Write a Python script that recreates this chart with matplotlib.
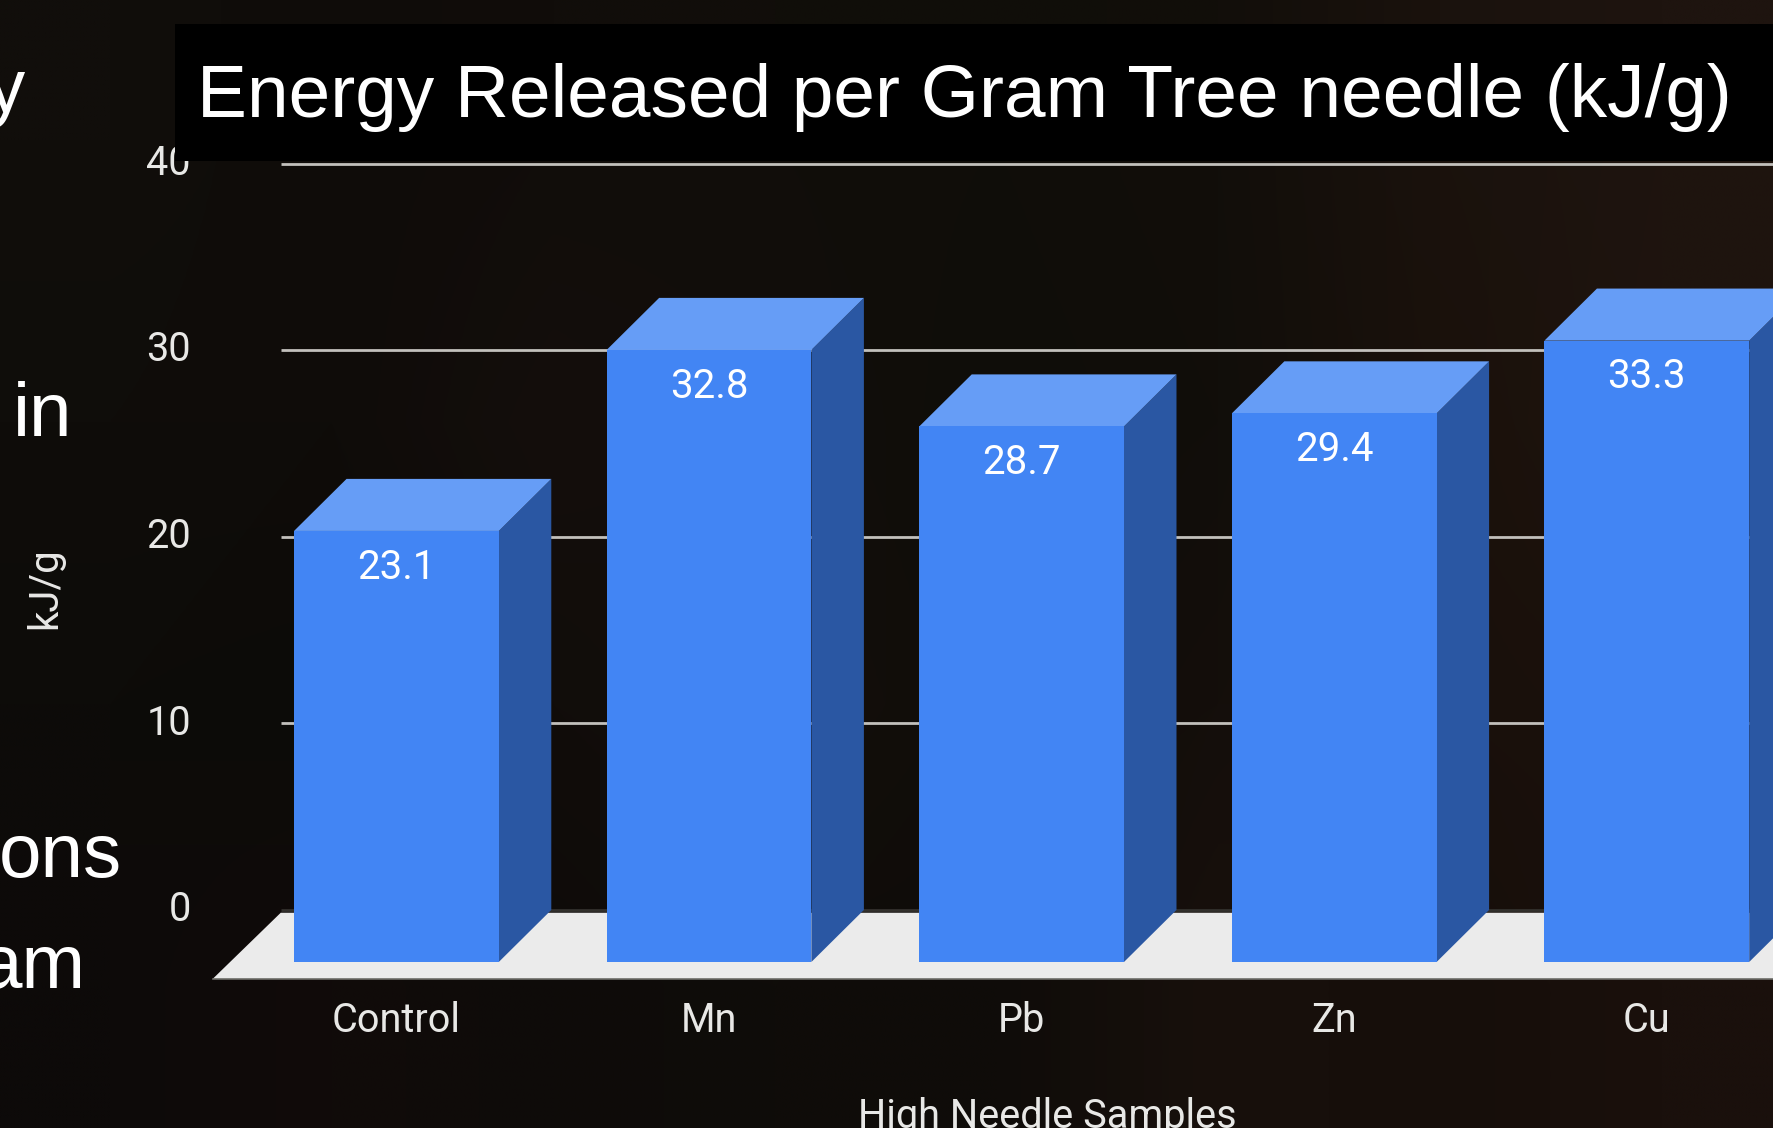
import numpy as np
import matplotlib
matplotlib.use('Agg')
import matplotlib.pyplot as plt
from matplotlib.patches import Polygon, Rectangle
from matplotlib.transforms import ScaledTranslation

# Chart data
samples = ['Control', 'Mn', 'Pb', 'Zn', 'Cu']
energy = [23.1, 32.8, 28.7, 29.4, 33.3]
y_ticks = [0, 10, 20, 30, 40]

# Figure size in pixels
W, H = 1773, 1128
fig = plt.figure(figsize=(W / 100, H / 100), dpi=100, facecolor='#110e0a')

# Dark slide background, coarse colours blurred together
bg_colors = np.array([
    [[17, 14, 11], [15, 12, 9], [17, 13, 10], [17, 14, 10], [16, 14, 9], [18, 14, 10], [26, 18, 13], [30, 20, 15]],
    [[15, 13, 10], [15, 12, 9], [20, 14, 12], [18, 14, 11], [15, 13, 9], [17, 14, 10], [26, 17, 11], [31, 20, 14]],
    [[13, 12, 9], [12, 11, 8], [17, 13, 10], [20, 14, 11], [16, 13, 9], [20, 14, 11], [25, 16, 11], [27, 17, 12]],
    [[13, 10, 9], [17, 11, 10], [14, 11, 9], [15, 13, 9], [15, 12, 9], [24, 16, 12], [22, 14, 10], [26, 16, 12]],
]) / 255
bg_ax = fig.add_axes([0, 0, 1, 1], zorder=-1)
bg_ax.imshow(bg_colors, aspect='auto', interpolation='bilinear')
bg_ax.axis('off')

# Axes position, one value unit is 18.66 px and one category is 312.6 px
left_px, bottom_px = 212.6, 979
ax = fig.add_axes([left_px / W, (H - bottom_px) / H, (W - left_px) / W, bottom_px / H])
ax.patch.set_alpha(0)
ax.set_xlim((left_px - 396.4) / 312.6, (W - 396.4) / 312.6)
ax.set_ylim((962 - bottom_px) / 18.66, 962 / 18.66)

bar_w = 0.655  # front face width
depth_x = 0.168  # bar depth, in category units
depth_y = 2.79  # bar depth, in value units
floor_left = ax.get_xlim()[0]
floor_front = ax.get_ylim()[0]
floor_back_x = floor_left + 0.218
right_end = ax.get_xlim()[1]

# Gridlines sit on the back wall
for g in y_ticks:
    color = '#33312d' if g == 0 else '#c2c0bc'
    ax.plot([floor_back_x, right_end], [g + depth_y, g + depth_y], color=color,
            lw=2, solid_capstyle='butt', zorder=1)

# Floor, with a thin edge along the front
ax.add_patch(Polygon([(floor_left, floor_front), (floor_back_x, depth_y - 0.15),
                      (right_end, depth_y - 0.15), (right_end, floor_front)],
                     closed=True, facecolor='#ebebeb', edgecolor='none', zorder=2))
ax.plot([floor_left, right_end], [floor_front, floor_front], color='#6e6d69', lw=1.2,
        clip_on=False, zorder=2)

# 3D bars: front, top and side faces
for i, v in enumerate(energy):
    x0, x1 = i - bar_w / 2, i + bar_w / 2
    ax.add_patch(Polygon([(x1, 0), (x1 + depth_x, depth_y), (x1 + depth_x, v + depth_y), (x1, v)],
                         closed=True, facecolor='#2a57a3', edgecolor='none', zorder=3))
    ax.add_patch(Polygon([(x0, v), (x0 + depth_x, v + depth_y), (x1 + depth_x, v + depth_y), (x1, v)],
                         closed=True, facecolor='#669df6', edgecolor='none', zorder=3))
    ax.add_patch(Rectangle((x0, 0), bar_w, v, facecolor='#4285f4', edgecolor='none', zorder=4))
    ax.annotate(f'{v}', (i, v), xytext=(0, -26), textcoords='offset points', ha='center',
                va='center', color='white', fontsize=29, family='Roboto', zorder=5)

# Axis labels and ticks
ax.set_yticks([g + depth_y for g in y_ticks])
ax.set_yticklabels(y_ticks)
ax.set_xticks(range(len(samples)))
ax.set_xticklabels(samples)
ax.tick_params(axis='both', length=0, labelcolor='#e8e8e6', labelsize=28.5)
ax.tick_params(axis='y', pad=15.5)
ax.tick_params(axis='x', pad=16)
for label in ax.get_xticklabels() + ax.get_yticklabels():
    label.set_family('Roboto')
# y labels sit a little above their gridlines
up = ScaledTranslation(0, 3 / 72, fig.dpi_scale_trans)
for label in ax.get_yticklabels():
    label.set_transform(label.get_transform() + up)
for spine in ax.spines.values():
    spine.set_visible(False)

fig.text(45 / W, 1 - 588 / H, 'kJ/g', rotation=90, color='#e8e8e6', fontsize=29,
         family='Roboto', ha='center', va='center')
fig.text(1047 / W, 1 - 1117 / H, 'High Needle Samples', color='#e8e8e6', fontsize=28.5,
         family='Roboto', ha='center', va='center')

# Title box on top of the chart
fig.add_artist(Rectangle((175 / W, 1 - 161 / H), (W - 175) / W, 136.5 / H, transform=fig.transFigure,
                         facecolor='black', edgecolor='none', zorder=5))
fig.text(197 / W, 1 - 97 / H, 'Energy Released per Gram Tree needle (kJ/g)', color='white',
         fontsize=53.9, family='Liberation Sans', ha='left', va='center', zorder=6)

# Slide text cut off by the left edge
for word, right_x, base_y in [('y', 25, 112), ('in', 72, 436), ('ons', 122, 877), ('am', 86, 988)]:
    fig.text(right_x / W, 1 - base_y / H, word, color='white', fontsize=55,
             family='Liberation Sans', ha='right', va='baseline')

fig.savefig('out.png', dpi=100, facecolor=fig.get_facecolor())
